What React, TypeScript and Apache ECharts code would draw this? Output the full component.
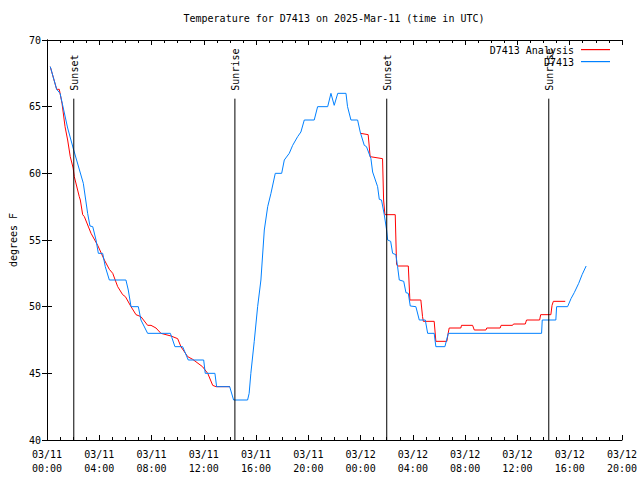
import React, { useEffect, useRef } from "react";
import * as echarts from "echarts";

const chartTitle = "Temperature for D7413 on 2025-Mar-11 (time in UTC)";
const yAxisName = "degrees F";
const seriesNames = ["D7413 Analysis", "D7413"];
const seriesColors = ["#ff0000", "#0080ff"];

// hours since 03/11 00:00 UTC
const xTickLabels = [
  "03/11\n00:00", "03/11\n04:00", "03/11\n08:00", "03/11\n12:00",
  "03/11\n16:00", "03/11\n20:00", "03/12\n00:00", "03/12\n04:00",
  "03/12\n08:00", "03/12\n12:00", "03/12\n16:00", "03/12\n20:00",
];

const sunNames = ["Sunset", "Sunrise", "Sunset", "Sunrise"];
const sunHours = [2.05, 14.38, 26.0, 38.4];

// D7413 Analysis (red)
const analysisHours = [
  0.25, 0.74, 0.94, 1.15, 1.38, 1.58, 1.78, 2.0, 2.09, 2.47, 2.55, 2.73, 2.86,
  3.37, 3.88, 4.39, 4.77, 5.03, 5.41, 5.79, 6.0, 6.43, 6.81, 7.19, 7.7, 7.96,
  8.34, 8.72, 9.49, 10.0, 10.25, 10.77, 11.15, 11.9, 12.3, 12.68, 12.93, 14.0,
  null,
  24.0, 24.58, 24.73, 25.68, 25.76, 25.86, 26.65, 26.75, 26.83, 27.65, 27.77,
  28.61, 28.74, 28.8, 29.63, 29.76, 30.6, 30.7, 30.78, 31.67, 31.72, 32.57,
  32.7, 33.59, 33.65, 34.68, 34.75, 35.63, 35.7, 36.6, 36.7, 37.7, 37.78,
  38.56, 38.65, 38.75, 39.66,
];
const analysisTemps = [
  68.0, 66.3, 66.3, 65.25, 63.5, 62.5, 61.25, 60.4, 59.75, 58.25, 58.0, 56.9, 56.75,
  55.5, 54.6, 53.5, 52.8, 52.5, 51.5, 50.9, 50.75, 50.0, 49.4, 49.25, 48.6, 48.6,
  48.4, 48.0, 47.8, 47.6, 47.0, 46.25, 46.05, 45.5, 45.0, 44.1, 44.0, 44.0,
  null,
  63.0, 62.9, 61.25, 61.1, 58.0, 56.9, 56.9, 53.2, 53.05, 53.05, 50.5,
  50.5, 49.25, 48.9, 48.9, 47.4, 47.4, 48.0, 48.4, 48.4, 48.6, 48.6,
  48.25, 48.25, 48.4, 48.4, 48.6, 48.6, 48.7, 48.7, 49.0, 49.0, 49.4,
  49.4, 50.1, 50.4, 50.4,
];

// D7413 observations (blue)
const obsHours = [
  0.25, 0.74, 1.0, 1.58, 2.0, 2.78, 3.11, 3.29, 3.5, 3.75, 3.93, 4.26, 4.46,
  4.77, 6.04, 6.22, 6.43, 6.99, 7.19, 7.7, 9.44, 9.55, 9.79, 10.38, 10.81,
  11.99, 12.11, 12.85, 12.98, 13.98, 14.28, 15.35, 15.47, 15.6, 15.86, 16.12,
  16.37, 16.63, 16.89, 17.14, 17.47, 17.96, 18.16, 18.54, 18.8, 19.18, 19.43,
  19.69, 20.45, 20.71, 21.48, 21.73, 21.98, 22.25, 22.88, 23.0, 23.26, 23.77,
  23.97, 24.28, 24.45, 24.79, 24.92, 25.3, 25.43, 25.6, 25.81, 25.99, 26.07,
  26.3, 26.45, 26.7, 26.83, 26.96, 27.3, 27.47, 27.65, 27.8, 28.23, 28.49,
  28.95, 29.13, 29.63, 29.76, 30.45, 30.71, 37.85, 37.9, 38.94, 39.0, 39.84,
  40.1, 40.35, 40.69, 40.95, 41.26,
];
const obsTemps = [
  68.0, 66.3, 66.0, 63.4, 61.9, 59.25, 57.0, 56.05, 56.0, 55.0, 54.0, 54.0, 53.0,
  52.0, 52.0, 51.25, 50.0, 50.0, 49.0, 48.0, 48.0, 47.7, 47.0, 47.0, 46.0,
  46.0, 45.0, 45.0, 44.0, 44.0, 43.0, 43.0, 43.5, 45.0, 47.4, 50.0,
  52.0, 55.75, 57.5, 58.5, 60.0, 60.0, 61.0, 61.5, 62.1, 62.75, 63.1,
  64.0, 64.0, 65.0, 65.0, 66.0, 65.1, 66.0, 66.0, 65.0, 64.0, 64.0,
  63.1, 62.1, 62.0, 61.1, 60.1, 59.0, 58.05, 58.0, 56.9, 55.75, 55.0,
  54.9, 54.0, 53.9, 53.0, 52.0, 51.9, 51.05, 51.0, 50.05, 50.0, 49.0,
  49.0, 48.0, 48.0, 47.0, 47.0, 48.0, 48.0, 49.0, 49.0, 50.0, 50.0,
  50.6, 51.05, 51.75, 52.4, 53.05,
];

const FONT = '"DejaVu Sans Mono", monospace';

function pairs(xs: (number | null)[], ys: (number | null)[]) {
  return xs.map((x, i) => (x === null ? [null, null] : [x, ys[i]]));
}

export default function App() {
  const ref = useRef<HTMLDivElement>(null);
  useEffect(() => {
    if (!ref.current) return;
    const chart = echarts.init(ref.current, undefined, { renderer: "svg" });
    const axisLine = { show: true, lineStyle: { color: "#000", width: 1 } };
    const xCommon = {
      type: "value",
      min: 0,
      max: 44,
      interval: 4,
      axisLine,
      splitLine: { show: false },
      axisTick: { show: true, inside: true, length: 5, lineStyle: { color: "#000" } },
      minorTick: { show: true, splitNumber: 4, length: 3, lineStyle: { color: "#000" } },
    };
    const yCommon = {
      type: "value",
      min: 40,
      max: 70,
      interval: 5,
      axisLine,
      splitLine: { show: false },
      axisTick: { show: true, inside: true, length: 5, lineStyle: { color: "#000" } },
    };
    const option: any = {
      animation: false,
      backgroundColor: "#fff",
      title: {
        text: chartTitle,
        left: 334,
        top: 13,
        padding: 0,
        textAlign: "center",
        textStyle: { fontFamily: FONT, fontSize: 10, fontWeight: "normal", color: "#000" },
      },
      grid: { left: 46, right: 18, top: 40, bottom: 40 },
      xAxis: [
        {
          ...xCommon,
          position: "bottom",
          axisLabel: {
            show: true,
            margin: 7,
            fontFamily: FONT,
            fontSize: 10,
            lineHeight: 14,
            color: "#000",
            showMinLabel: true,
            showMaxLabel: true,
            formatter: (v: number) => xTickLabels[Math.round(v / 4)] ?? "",
          },
        },
        { ...xCommon, position: "top", axisLabel: { show: false } },
      ],
      yAxis: [
        {
          ...yCommon,
          position: "left",
          name: yAxisName,
          nameLocation: "middle",
          nameGap: 29,
          nameTextStyle: { fontFamily: FONT, fontSize: 10, color: "#000" },
          axisLabel: { margin: 6, fontFamily: FONT, fontSize: 10, color: "#000" },
        },
        { ...yCommon, position: "right", axisLabel: { show: false } },
      ],
      series: [
        {
          name: seriesNames[0],
          type: "line",
          data: pairs(analysisHours, analysisTemps),
          showSymbol: false,
          symbol: "none",
          connectNulls: false,
          lineStyle: { color: seriesColors[0], width: 1 },
          itemStyle: { color: seriesColors[0] },
          z: 2,
        },
        {
          name: seriesNames[1],
          type: "line",
          data: pairs(obsHours, obsTemps),
          showSymbol: false,
          symbol: "none",
          lineStyle: { color: seriesColors[1], width: 1 },
          itemStyle: { color: seriesColors[1] },
          z: 3,
        },
        {
          type: "custom",
          data: sunHours.map((h) => [h, 40]),
          encode: { x: 0, y: 1 },
          clip: false,
          z: 4,
          renderItem: (params: any, api: any) => {
            const h = api.value(0);
            const p0 = api.coord([h, 40]);
            const p1 = api.coord([h, 65.6]);
            return {
              type: "group",
              children: [
                {
                  type: "line",
                  shape: { x1: p0[0], y1: p0[1], x2: p1[0], y2: p1[1] },
                  style: { stroke: "#000", lineWidth: 1 },
                },
                {
                  type: "text",
                  x: p1[0] + 1,
                  y: p1[1] - 8,
                  rotation: Math.PI / 2,
                  style: {
                    text: sunNames[params.dataIndex],
                    fill: "#000",
                    font: `10px ${FONT}`,
                    align: "left",
                    verticalAlign: "middle",
                  },
                },
              ],
            };
          },
        },
      ],
      graphic: [
        {
          type: "text",
          x: 574,
          y: 50,
          style: { text: seriesNames[0], fill: "#000", font: `10px ${FONT}`, align: "right", verticalAlign: "middle" },
        },
        {
          type: "rect",
          shape: { x: 581, y: 49, width: 29, height: 1.2 },
          style: { fill: seriesColors[0] },
        },
        {
          type: "text",
          x: 574,
          y: 62,
          style: { text: seriesNames[1], fill: "#000", font: `10px ${FONT}`, align: "right", verticalAlign: "middle" },
        },
        {
          type: "rect",
          shape: { x: 581, y: 61, width: 29, height: 1.2 },
          style: { fill: seriesColors[1] },
        },
      ],
    };
    chart.setOption(option);
    return () => chart.dispose();
  }, []);
  return (
    <div
      ref={ref}
      style={{ position: "fixed", left: 0, top: 0, width: 640, height: 480, background: "#fff" }}
    />
  );
}
